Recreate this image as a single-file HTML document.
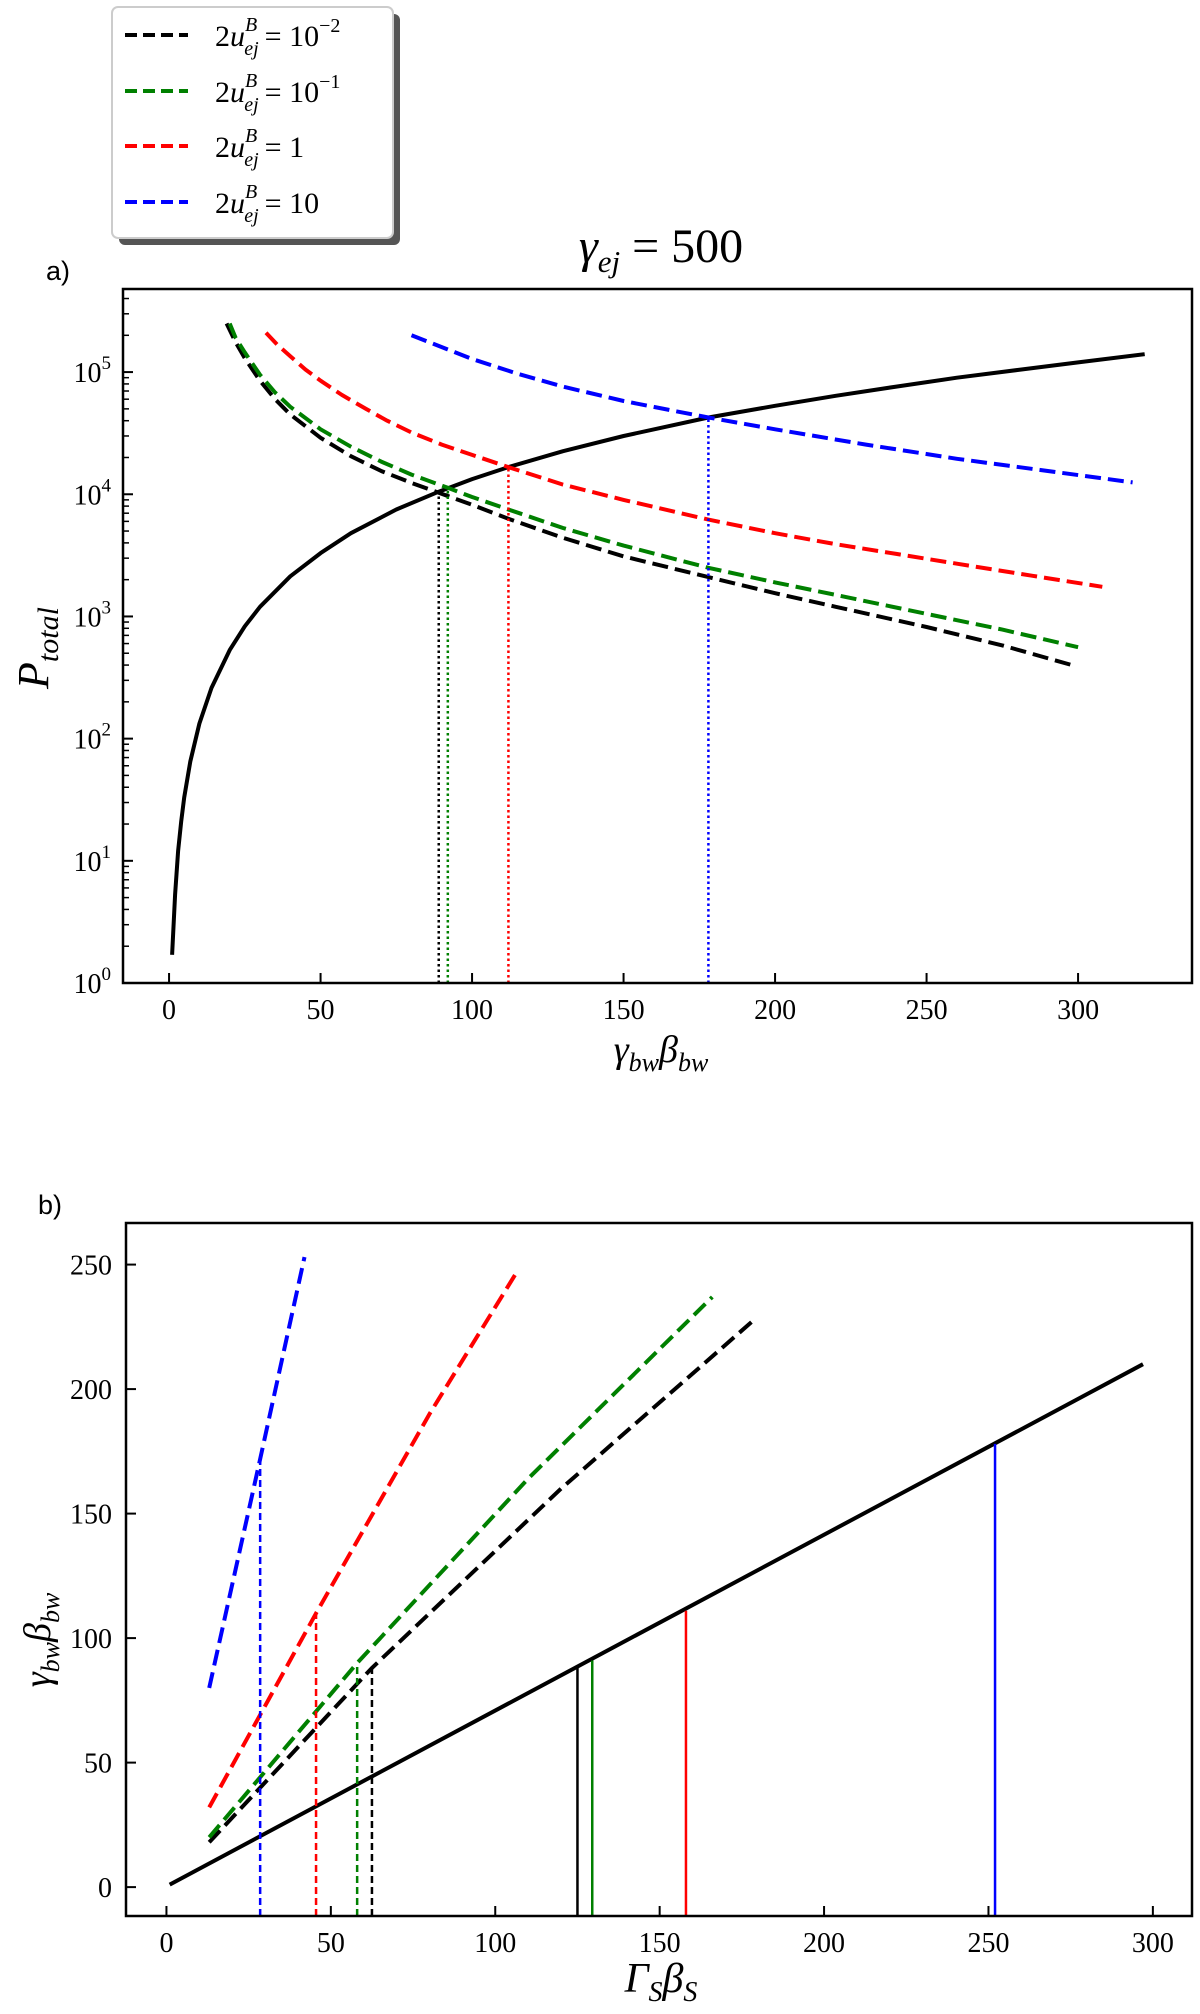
<!DOCTYPE html>
<html><head><meta charset="utf-8">
<style>
html,body{margin:0;padding:0;background:#fff;}
svg{display:block;}
text{font-family:"Liberation Serif","DejaVu Serif",serif;}
</style></head>
<body>
<svg id="fig" width="1200" height="2014" viewBox="0 0 1200 2014" xmlns="http://www.w3.org/2000/svg">
  <g id="legend">
    <rect x="119" y="14" width="281" height="231" rx="6" fill="#555"/>
    <rect x="112" y="7" width="281" height="231" rx="6" fill="#fff" stroke="#ccc" stroke-width="2"/>
  </g>
  <text x="661" y="262" font-size="48" text-anchor="middle"><tspan font-style="italic">γ</tspan><tspan font-style="italic" font-size="31" dy="10">ej</tspan><tspan dy="-10"> = 500</tspan></text>
  <text x="46" y="280" style="font-family:'Liberation Sans','DejaVu Sans',sans-serif;font-size:27px">a)</text>
  <text x="38" y="1214" style="font-family:'Liberation Sans','DejaVu Sans',sans-serif;font-size:27px">b)</text>
  <g id="plotA"></g>
  <g id="plotB"></g>
  <text transform="translate(48,648) rotate(-90)" font-size="44" text-anchor="middle" font-style="italic">P<tspan font-size="30" dy="10">total</tspan></text>
  <text x="661" y="1062" font-size="38" text-anchor="middle" font-style="italic">γ<tspan font-size="26" dy="9">bw</tspan><tspan dy="-9">β</tspan><tspan font-size="26" dy="9">bw</tspan></text>
  <text transform="translate(50,1640) rotate(-90)" font-size="38" text-anchor="middle" font-style="italic">γ<tspan font-size="26" dy="9">bw</tspan><tspan dy="-9">β</tspan><tspan font-size="26" dy="9">bw</tspan></text>
  <text x="661" y="1992" font-size="42" text-anchor="middle" font-style="italic">Γ<tspan font-size="28" dy="9">S</tspan><tspan dy="-9">β</tspan><tspan font-size="28" dy="9">S</tspan></text>
</svg>
<script>
// ---------- Panel a data ----------
const aSolidX = [1, 1.5, 2, 3, 4, 5, 7, 10, 14, 20, 25, 30, 40, 50, 60, 75, 89, 100, 112, 130, 150, 178, 200, 220, 240, 260, 280, 300, 322];
const aSolidY = [1.7, 3, 5.3, 12, 21, 33, 65, 133, 260, 530, 830, 1200, 2130, 3300, 4800, 7500, 10500, 13300, 16700, 22500, 30000, 42500, 53000, 64000, 76000, 90000, 104000, 120000, 140000];
const aBlackX = [19, 22, 25, 30, 35, 40, 50, 60, 70, 80, 89, 100, 112, 130, 150, 178, 200, 220, 250, 275, 298];
const aBlackY = [250000, 175000, 130000, 85000, 60000, 45000, 29000, 20500, 15500, 12400, 10300, 8200, 6300, 4400, 3100, 2100, 1550, 1200, 820, 580, 400];
const aGreenX = [20, 22, 25, 30, 35, 40, 50, 60, 70, 80, 92, 100, 112, 130, 150, 178, 200, 220, 250, 275, 300];
const aGreenY = [250000, 190000, 145000, 95000, 68000, 52000, 34000, 24500, 18500, 14500, 11300, 9500, 7500, 5300, 3800, 2500, 1900, 1500, 1050, 780, 560];
const aRedX = [32, 36, 40, 45, 50, 57, 65, 72, 80, 90, 100, 112, 130, 150, 178, 200, 220, 240, 260, 285, 308];
const aRedY = [210000, 165000, 135000, 105000, 85000, 65000, 50000, 40000, 32000, 25500, 21000, 16700, 12000, 9000, 6200, 4800, 3900, 3250, 2700, 2150, 1750];
const aBlueX = [80, 90, 100, 115, 130, 150, 165, 178, 200, 230, 260, 290, 318];
const aBlueY = [200000, 160000, 128000, 97000, 76000, 58000, 49000, 42500, 34000, 25500, 19500, 15500, 12500];
const aVlineX = [89, 92, 112, 178];
const aVlineY = [10300, 11300, 16700, 42500];
const aXTicks = [0, 50, 100, 150, 200, 250, 300];
const aYTicks = [0, 1, 2, 3, 4, 5];
// ---------- Panel b data ----------
const bSolidX = [1, 297];
const bSolidY = [1, 210];
const bBlackX = [13, 62.5, 120, 178];
const bBlackY = [18, 88, 160, 227];
const bGreenX = [13, 58, 110, 166];
const bGreenY = [20, 90, 164, 237];
const bRedX = [13, 45.5, 80, 107];
const bRedY = [32, 110, 190, 248];
const bBlueX = [13, 28.5, 42];
const bBlueY = [80, 172, 253];
const bDashVX = [28.5, 45.5, 58, 62.5];
const bDashVY = [172, 110, 90, 88];
const bSolidVX = [125, 129.5, 158, 252];
const bSolidVY = [88, 91, 111, 178];
const bXTicks = [0, 50, 100, 150, 200, 250, 300];
const bYTicks = [0, 50, 100, 150, 200, 250];

const COLORS = ['#000', '#008000', '#ff0000', '#0000ff'];
const NS = 'http://www.w3.org/2000/svg';
function mk(tag, attrs, parent) {
  const e = document.createElementNS(NS, tag);
  for (const k in attrs) e.setAttribute(k, attrs[k]);
  parent.appendChild(e);
  return e;
}

const A = {l: 123, r: 1192, t: 289, b: 983, x0: -15.2, x1: 337.6, y0: 0, y1: 5.68};
const ax = v => A.l + (v - A.x0) / (A.x1 - A.x0) * (A.r - A.l);
const ay = v => A.b - (Math.log10(v) - A.y0) / (A.y1 - A.y0) * (A.b - A.t);
const B = {l: 126, r: 1192, t: 1223, b: 1916, x0: -12.3, x1: 311.9, y0: -11.6, y1: 266.7};
const bx = v => B.l + (v - B.x0) / (B.x1 - B.x0) * (B.r - B.l);
const by = v => B.b - (v - B.y0) / (B.y1 - B.y0) * (B.b - B.t);

function pathD(xs, ys, fx, fy) {
  return xs.map((x, i) => (i ? 'L' : 'M') + fx(x).toFixed(1) + ' ' + fy(ys[i]).toFixed(1)).join(' ');
}

const gA = document.getElementById('plotA');
let el;
el = mk('path', {d: pathD(aSolidX, aSolidY, ax, ay), fill: 'none', stroke: '#000', 'stroke-width': 4, 'stroke-linejoin': 'round'}, gA);


const aSeries = [[aBlackX, aBlackY], [aGreenX, aGreenY], [aRedX, aRedY], [aBlueX, aBlueY]];
const sNames = ['black', 'green', 'red', 'blue'];
aSeries.forEach((s, i) => {
  const p = mk('path', {d: pathD(s[0], s[1], ax, ay), fill: 'none', stroke: COLORS[i], 'stroke-width': 4, 'stroke-dasharray': '16 7', 'stroke-linejoin': 'round'}, gA);
  
  
});
aVlineX.forEach((x, i) => {
  const l = mk('line', {x1: ax(x), x2: ax(x), y1: A.b, y2: ay(aVlineY[i]), stroke: COLORS[i], 'stroke-width': 2.5, 'stroke-dasharray': '2.5 3'}, gA);
  
  
});
el = mk('rect', {x: A.l, y: A.t, width: A.r - A.l, height: A.b - A.t, fill: 'none', stroke: '#000', 'stroke-width': 2.5}, gA);


aXTicks.forEach(v => {
  const l = mk('line', {x1: ax(v), x2: ax(v), y1: A.b, y2: A.b - 10, stroke: '#000', 'stroke-width': 2}, gA);
  
  
  const t = mk('text', {x: ax(v), y: A.b + 36, 'font-size': 28, 'text-anchor': 'middle'}, gA);
  t.textContent = v;
  
  
});
aYTicks.forEach(d => {
  const y = ay(Math.pow(10, d));
  const l = mk('line', {x1: A.l, x2: A.l + 10, y1: y, y2: y, stroke: '#000', 'stroke-width': 2}, gA);
  
  
  const t = mk('text', {x: A.l - 12, y: y + 10, 'font-size': 28, 'text-anchor': 'end'}, gA);
  t.innerHTML = '10<tspan font-size="19" dy="-13">' + d + '</tspan>';
  
  
  for (let m = 2; m <= 9; m++) {
    const yy = ay(m * Math.pow(10, d));
    if (yy < A.t) break;
    const ml = mk('line', {x1: A.l, x2: A.l + 6, y1: yy, y2: yy, stroke: '#000', 'stroke-width': 1.5}, gA);
    
    
  }
});

const gB = document.getElementById('plotB');
el = mk('path', {d: pathD(bSolidX, bSolidY, bx, by), fill: 'none', stroke: '#000', 'stroke-width': 4}, gB);


const bSeries = [[bBlackX, bBlackY], [bGreenX, bGreenY], [bRedX, bRedY], [bBlueX, bBlueY]];
bSeries.forEach((s, i) => {
  const p = mk('path', {d: pathD(s[0], s[1], bx, by), fill: 'none', stroke: COLORS[i], 'stroke-width': 4, 'stroke-dasharray': '16 7'}, gB);
  
  
});
const dashOrder = [3, 2, 1, 0];
bDashVX.forEach((x, i) => {
  const l = mk('line', {x1: bx(x), x2: bx(x), y1: B.b, y2: by(bDashVY[i]), stroke: COLORS[dashOrder[i]], 'stroke-width': 2.5, 'stroke-dasharray': '7 4'}, gB);
  
  
});
bSolidVX.forEach((x, i) => {
  const l = mk('line', {x1: bx(x), x2: bx(x), y1: B.b, y2: by(bSolidVY[i]), stroke: COLORS[i], 'stroke-width': 2.5}, gB);
  
  
});
el = mk('rect', {x: B.l, y: B.t, width: B.r - B.l, height: B.b - B.t, fill: 'none', stroke: '#000', 'stroke-width': 2.5}, gB);


bXTicks.forEach(v => {
  const l = mk('line', {x1: bx(v), x2: bx(v), y1: B.b, y2: B.b - 10, stroke: '#000', 'stroke-width': 2}, gB);
  
  
  const t = mk('text', {x: bx(v), y: B.b + 36, 'font-size': 28, 'text-anchor': 'middle'}, gB);
  t.textContent = v;
  
  
});
bYTicks.forEach(v => {
  const l = mk('line', {x1: B.l, x2: B.l + 10, y1: by(v), y2: by(v), stroke: '#000', 'stroke-width': 2}, gB);
  
  
  const t = mk('text', {x: B.l - 14, y: by(v) + 10, 'font-size': 28, 'text-anchor': 'end'}, gB);
  t.textContent = v;
  
  
});

const legendLabels = ['= 10<tspan font-size="20" dy="-14">−2</tspan>', '= 10<tspan font-size="20" dy="-14">−1</tspan>', '= 1', '= 10'];
const legendY = [35, 91, 146, 202];
const gL = document.getElementById('legend');
legendLabels.forEach((lab, i) => {
  const l = mk('line', {x1: 125, x2: 188, y1: legendY[i], y2: legendY[i], stroke: COLORS[i], 'stroke-width': 4, 'stroke-dasharray': '12 6'}, gL);
  
  
  const t = mk('text', {x: 215, y: legendY[i] + 11, 'font-size': 30}, gL);
  t.innerHTML = '2<tspan font-style="italic">u</tspan><tspan font-style="italic" font-size="20" dy="-15">B</tspan><tspan font-style="italic" font-size="20" dx="-13" dy="24">ej</tspan><tspan dx="6" dy="-9">' + lab + '</tspan>';
  
  
});
</script>
</body></html>
